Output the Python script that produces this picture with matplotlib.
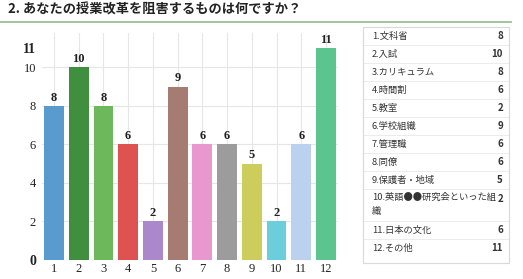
import matplotlib
matplotlib.use("Agg")
import matplotlib.pyplot as plt
from matplotlib.lines import Line2D
from matplotlib.patches import Rectangle

W, H = 523, 279
DPI = 100

title = "2. あなたの授業改革を阻害するものは何ですか？"
categories = [1, 2, 3, 4, 5, 6, 7, 8, 9, 10, 11, 12]
values = [8, 10, 8, 6, 2, 9, 6, 6, 5, 2, 6, 11]
labels = ["1.文科省", "2.入試", "3.カリキュラム", "4.時間割", "5.教室", "6.学校組織",
          "7.管理職", "8.同僚", "9.保護者・地域", "10.英語●●研究会といった組\n織",
          "11.日本の文化", "12.その他"]
colors = ["#5a9bcf", "#3f8f3f", "#6cb85a", "#df5252", "#ab88cb", "#a67c72",
          "#e898cf", "#9c9c9c", "#cdcd5c", "#6ccddd", "#bcd1ee", "#5cc48e"]
yticks = [0, 2, 4, 6, 8, 10, 11]

cjk = ["Noto Sans CJK JP", "DejaVu Sans"]
serif = ["Liberation Serif", "DejaVu Serif"]

fig = plt.figure(figsize=(W / DPI, H / DPI), dpi=DPI)


def fx(px):
    return px / W


def fy(py):
    return 1 - py / H


# Title and green rule
fig.text(fx(8), fy(10), title, family=cjk, fontsize=9.5, fontweight="bold",
         color="#222222", va="center", ha="left")
fig.add_artist(Line2D([fx(0), fx(511)], [fy(22), fy(22)], color="#94c494", lw=1.3))

# Bar chart
left, right, top, bottom = 41.6, 338.4, 33, 260
ax = fig.add_axes([fx(left), fy(bottom), fx(right - left), (bottom - top) / H])
ax.bar(categories, values, width=0.8, color=colors, zorder=2)
for x, v in zip(categories, values):
    ax.text(x, v + 0.12, str(v), ha="center", va="bottom", family=serif,
            fontweight="bold", fontsize=9, color="#222222")
ax.set_xlim(0.5, 12.5)
ax.set_ylim(0, 11.78)
ax.set_xticks(categories)
ax.set_xticklabels([str(c) for c in categories], family=serif, fontsize=9, color="#222222")
ax.set_yticks(yticks)
ax.set_yticklabels([str(t) for t in yticks], family=serif, fontsize=9, color="#222222")
for lab, t in zip(ax.get_yticklabels(), yticks):
    if t in (0, 11):
        lab.set_fontweight("bold")
        lab.set_fontsize(10)
ax.tick_params(length=0, pad=4)
ax.tick_params(axis="x", pad=2)
for s in ax.spines.values():
    s.set_visible(False)
for t in [0, 2, 4, 6, 8, 10]:
    ax.axhline(t, color="#e6e6e6", lw=0.8, zorder=0)
for c in categories:
    ax.axvline(c, color="#e6e6e6", lw=0.8, zorder=0)

# Table on the right
bx0, bx1, by0, by1 = 363, 509, 27, 263
fig.add_artist(Rectangle((fx(bx0), fy(by1)), fx(bx1 - bx0), (by1 - by0) / H,
                         facecolor="white", edgecolor="#d8d8d8", lw=0.8))
row_h = 18
y = 27
for i, (lab, v) in enumerate(zip(labels, values)):
    nlines = lab.count("\n") + 1
    h = row_h + (nlines - 1) * 14
    if nlines == 1:
        fig.text(fx(372), fy(y + 9), lab, family=cjk, fontsize=6.7, color="#333333",
                 va="center", ha="left")
        vy = y + 9
    else:
        fig.text(fx(372), fy(y + 4), lab, family=cjk, fontsize=6.7, color="#333333",
                 va="top", ha="left", linespacing=1.65)
        vy = y + 10
    fig.text(fx(503), fy(vy), str(v), family=cjk, fontsize=7, fontweight="bold",
             color="#333333", va="center", ha="right")
    y += h
    if i < len(labels) - 1:
        fig.add_artist(Line2D([fx(bx0 + 1), fx(bx1 - 1)], [fy(y), fy(y)],
                              color="#ececec", lw=0.7))

fig.savefig("out.png", dpi=DPI)
